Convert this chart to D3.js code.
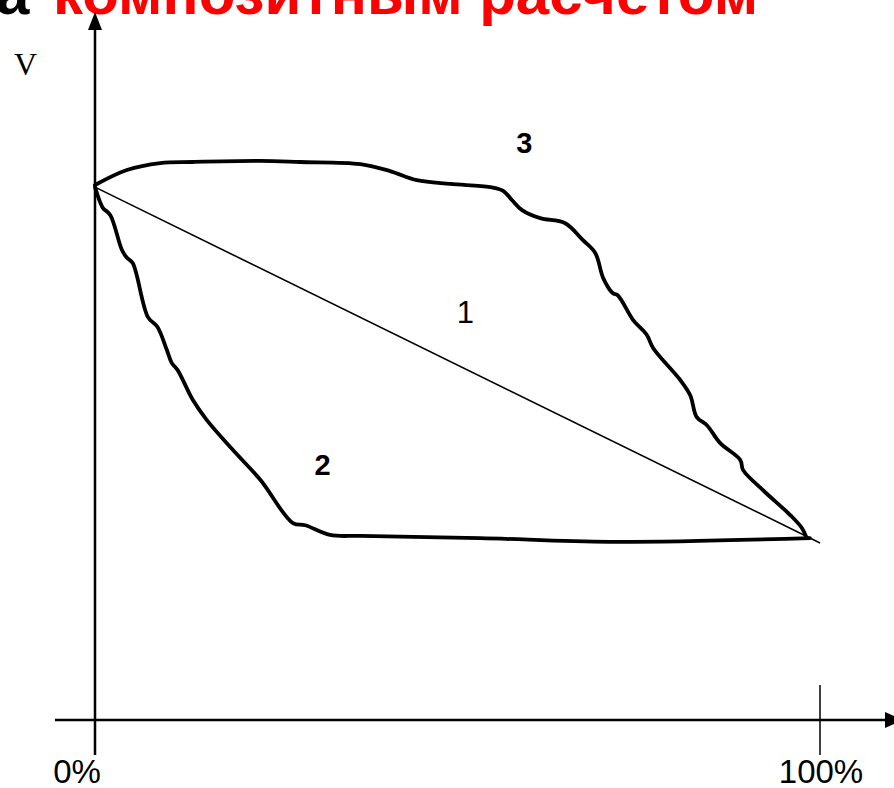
<!DOCTYPE html>
<html>
<head>
<meta charset="utf-8">
<script src="https://cdn.jsdelivr.net/npm/d3@7"></script>
<style>
  html, body { margin: 0; padding: 0; background: #fff; }
  svg { display: block; }
</style>
</head>
<body>
<svg id="chart" width="894" height="788"></svg>
<script>
// Share of the second component, % (x) and mixture volume V (arbitrary units)
const line1Pct = [0, 100];
const line1V   = [99.6, 33.1];

// Curve 2: negative deviation from additivity
const curve2Pct = [0, 0.7, 1.1, 2.1, 3.7, 4.4, 5.2, 7.3, 8.6, 9.9, 10.6, 11.4, 13.5, 15.4, 19.0, 22.8, 27.3, 29.0, 32.4, 36.6, 53.1, 71.0, 98.6];
const curve2V   = [99.6, 96.8, 95.7, 94.4, 87.9, 86.4, 85.4, 75.3, 73.5, 69.2, 66.7, 65.4, 59.8, 56.1, 50.5, 44.9, 36.8, 36.4, 34.6, 34.4, 34.0, 33.3, 34.0];

// Curve 3: positive deviation from additivity
const curve3Pct = [0, 4.4, 9.0, 13.5, 22.8, 28.3, 36.6, 40.7, 44.4, 49.0, 54.5, 56.3, 57.5, 58.9, 61.4, 64.8, 67.3, 69.0, 70.1, 71.4, 72.1, 74.2, 76.1, 77.0, 80.7, 82.1, 83.0, 84.4, 86.2, 89.0, 89.4, 92.1, 95.9, 97.5, 98.1];
const curve3V   = [100, 102.8, 104.1, 104.3, 104.5, 104.3, 103.9, 102.6, 100.9, 100.2, 99.6, 98.9, 97.2, 95.3, 93.8, 92.9, 89.7, 87.3, 82.6, 79.8, 79.4, 74.8, 72.0, 69.5, 63.6, 60.7, 56.6, 55.1, 51.8, 48.6, 46.7, 43.0, 38.3, 35.9, 34.2];

const tickPct    = [0, 100];
const tickLabels = ["0%", "100%"];

const curveLabels = ["1", "2", "3"];
const labelPct    = [51.1, 31.4, 59.2];
const labelV      = [74.2, 45.8, 106.0];

const titleLead = "а";
const titleText = "композитным расчётом";
const yTitle = "V";

const svg = d3.select("#chart");

const x = d3.scaleLinear().domain([0, 100]).range([95, 820]);
const y = d3.scaleLinear().domain([0, 100]).range([720, 185]);

const zip = (xs, ys) => xs.map((v, i) => [v, ys[i]]);

// Heading (runs off the top edge)
svg.append("text")
  .attr("x", -4).attr("y", 14)
  .attr("font-family", "Liberation Sans, Arial, sans-serif")
  .attr("font-weight", "bold").attr("font-size", 60)
  .attr("fill", "#000").text(titleLead);
svg.append("text")
  .attr("x", 53).attr("y", 14)
  .attr("font-family", "Liberation Sans, Arial, sans-serif")
  .attr("font-weight", "bold").attr("font-size", 60)
  .attr("fill", "#ff0000").text(titleText);

// Axes with arrowheads
const x0 = x(0), yBase = 720;
svg.append("line")
  .attr("x1", x0).attr("y1", 755).attr("x2", x0).attr("y2", 24)
  .attr("stroke", "#000").attr("stroke-width", 2.5);
svg.append("path")
  .attr("d", `M${x0},12 L${x0 - 7},30 L${x0 + 7},30 Z`)
  .attr("fill", "#000");

svg.append("line")
  .attr("x1", 55).attr("y1", yBase).attr("x2", 890).attr("y2", yBase)
  .attr("stroke", "#000").attr("stroke-width", 2.5);
svg.append("path")
  .attr("d", `M903,${yBase} L885,${yBase - 8} L885,${yBase + 8} Z`)
  .attr("fill", "#000");

// Tick marks and labels along the composition axis
svg.selectAll("line.tick")
  .data(tickPct.filter(d => d > 0))
  .join("line")
  .attr("class", "tick")
  .attr("x1", d => x(d)).attr("x2", d => x(d))
  .attr("y1", 685).attr("y2", 755)
  .attr("stroke", "#000").attr("stroke-width", 1.5);

svg.selectAll("text.tlabel")
  .data(tickPct)
  .join("text")
  .attr("class", "tlabel")
  .attr("x", (d, i) => i === 0 ? x(d) - 18 : x(d) + 1)
  .attr("y", 783)
  .attr("text-anchor", "middle")
  .attr("font-family", "Liberation Sans, Arial, sans-serif")
  .attr("font-size", 33)
  .text((d, i) => tickLabels[i]);

svg.append("text")
  .attr("x", 14).attr("y", 75)
  .attr("font-family", "Liberation Serif, Times New Roman, serif")
  .attr("font-size", 32)
  .text(yTitle);

// Curves
const lineGen = d3.line()
  .x(d => x(d[0])).y(d => y(d[1]))
  .curve(d3.curveCatmullRom.alpha(0.5));

svg.append("path")
  .datum(zip(line1Pct, line1V))
  .attr("d", d3.line().x(d => x(d[0])).y(d => y(d[1])))
  .attr("fill", "none").attr("stroke", "#000").attr("stroke-width", 1.6);

svg.append("path")
  .datum(zip(curve2Pct, curve2V))
  .attr("d", lineGen)
  .attr("fill", "none").attr("stroke", "#000").attr("stroke-width", 3.8)
  .attr("stroke-linejoin", "round").attr("stroke-linecap", "round");

svg.append("path")
  .datum(zip(curve3Pct, curve3V))
  .attr("d", lineGen)
  .attr("fill", "none").attr("stroke", "#000").attr("stroke-width", 3.8)
  .attr("stroke-linejoin", "round").attr("stroke-linecap", "round");

// Curve numbers
svg.selectAll("text.clabel")
  .data(curveLabels)
  .join("text")
  .attr("class", "clabel")
  .attr("x", (d, i) => x(labelPct[i]))
  .attr("y", (d, i) => y(labelV[i]))
  .attr("text-anchor", "middle")
  .attr("font-family", "Liberation Sans, Arial, sans-serif")
  .attr("font-weight", (d, i) => i === 0 ? "normal" : "bold")
  .attr("font-size", (d, i) => i === 0 ? 31 : 29)
  .text(d => d);
</script>
</body>
</html>
